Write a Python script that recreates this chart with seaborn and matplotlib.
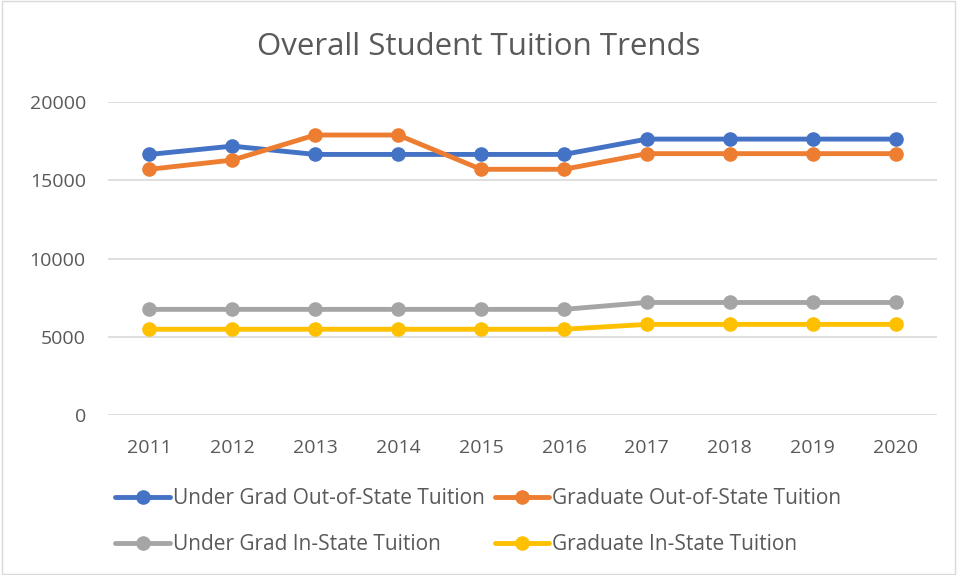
import pandas as pd
import matplotlib.pyplot as plt
import seaborn as sns

years = [2011, 2012, 2013, 2014, 2015, 2016, 2017, 2018, 2019, 2020]
ug_out = [16650, 17180, 16650, 16650, 16650, 16650, 17630, 17630, 17630, 17630]
grad_out = [15700, 16290, 17890, 17890, 15700, 15700, 16700, 16700, 16700, 16700]
ug_in = [6750, 6750, 6750, 6750, 6750, 6750, 7190, 7190, 7190, 7190]
grad_in = [5480, 5480, 5480, 5480, 5480, 5480, 5790, 5790, 5790, 5790]

series_names = ["Under Grad Out-of-State Tuition", "Graduate Out-of-State Tuition",
                "Under Grad In-State Tuition", "Graduate In-State Tuition"]
colors = ["#4472C4", "#ED7D31", "#A5A5A5", "#FFC000"]

dtf = pd.concat([
    pd.DataFrame({"year": years, "tuition": vals, "series": name})
    for name, vals in zip(series_names, [ug_out, grad_out, ug_in, grad_in])
])

sns.set_style("white")
plt.rcParams['font.family'] = ['Open Sans', 'DejaVu Sans']

fig = plt.figure(figsize=(9.57, 5.75), dpi=100)
ax = fig.add_axes([108/957, 1 - 415/575, (937-108)/957, (415-102)/575])

sns.lineplot(data=dtf, x="year", y="tuition", hue="series", hue_order=series_names,
             palette=colors, marker="o", markersize=10.5, markeredgewidth=0,
             linewidth=3.5, ax=ax, legend=False, zorder=3)

ax.set_xlim(2010.5, 2020.5)
ax.set_ylim(0, 20000)
ax.set_xticks(years)
ax.set_yticks([0, 5000, 10000, 15000, 20000])
ax.grid(axis="y", color="#d9d9d9", linewidth=1.2, zorder=0)
ax.set_axisbelow(True)
for s in ax.spines.values():
    s.set_visible(False)
ax.tick_params(axis="both", length=0, labelsize=14, labelcolor="#595959")
ax.tick_params(axis="x", pad=17)
ax.tick_params(axis="y", pad=16)
ax.set_xlabel("")
ax.set_ylabel("")

fig.text(0.5, 1 - 47/575, "Overall Student Tuition Trends", ha="center", va="center",
         fontsize=22.5, color="#595959")

# legend filled row by row like the original
handles = [plt.Line2D([], [], color=c, marker="o", markersize=10.5, markeredgewidth=0,
                      linewidth=3.5) for c in colors]
order = [0, 2, 1, 3]
fig.legend([handles[i] for i in order], [series_names[i] for i in order],
           loc="center", bbox_to_anchor=(0.5, 1 - 522/575),
           ncol=2, frameon=False, fontsize=15, labelcolor="#595959",
           handlelength=2.6, handletextpad=0.15, columnspacing=0.5, labelspacing=1.2)

# chart border
fig.patches.append(plt.Rectangle((0.002, 0.002), 0.996, 0.996, transform=fig.transFigure,
                                 fill=False, edgecolor="#d9d9d9", linewidth=1))

plt.savefig("out.png", dpi=100)
